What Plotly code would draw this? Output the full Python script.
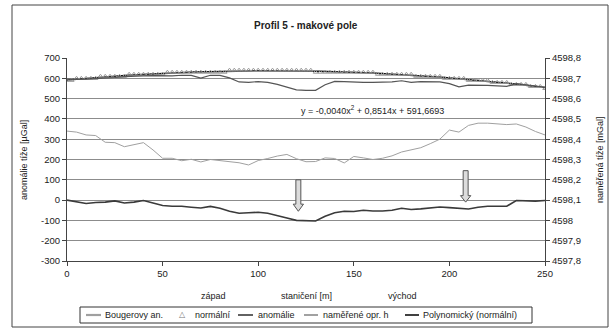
import plotly.graph_objects as go

# ---------------- data ----------------
stations = list(range(0, 255, 5))  # staničení [m]

bouguer = [340, 335, 321, 318, 285, 283, 263, 272, 283, 247, 206, 206, 194, 201, 188, 200, 194, 188,
           184, 173, 195, 205, 217, 225, 204, 189, 190, 208, 205, 183, 215, 208, 200, 206, 218, 237,
           249, 258, 278, 300, 345, 335, 368, 379, 379, 376, 372, 375, 360, 338, 321]

anomalie = [0, -8, -17, -12, -10, -4, -14, -10, -2, -14, -27, -30, -30, -35, -39, -31, -40, -55,
            -65, -62, -60, -65, -75, -88, -100, -103, -103, -80, -62, -55, -56, -50, -54, -54, -50,
            -40, -46, -43, -38, -34, -37, -42, -44, -35, -30, -30, -30, -2, -4, -5, -2]

namerene = [4598.696, 4598.694, 4598.696, 4598.698, 4598.700, 4598.704, 4598.708, 4598.711,
            4598.712, 4598.713, 4598.712, 4598.712, 4598.715, 4598.714, 4598.701, 4598.715,
            4598.714, 4598.702, 4598.682, 4598.680, 4598.684, 4598.680, 4598.670, 4598.655,
            4598.643, 4598.641, 4598.641, 4598.668, 4598.685, 4598.684, 4598.681, 4598.680,
            4598.680, 4598.680, 4598.682, 4598.688, 4598.680, 4598.684, 4598.682, 4598.682,
            4598.674, 4598.658, 4598.666, 4598.667, 4598.665, 4598.663, 4598.660, 4598.674,
            4598.667, 4598.663, 4598.656]

stations_norm = [i * 2.5 for i in range(101)]
normalni = ([4598.69] * 2 + [4598.70] * 5 + [4598.71] * 6 + [4598.72] * 8 + [4598.73] * 13 +
            [4598.74] * 18 + [4598.73] * 13 + [4598.72] * 8 + [4598.71] * 6 + [4598.70] * 5 +
            [4598.69] * 5 + [4598.68] * 4 + [4598.67] * 4 + [4598.66] * 3 + [4598.65] * 1)

# polynomial trendline coefficients (as printed in chart)
poly_coef = [-0.0040, 0.8514, 591.6693]
poly_x = list(range(0, 251, 2))
poly_y = [poly_coef[0] * x * x + poly_coef[1] * x + poly_coef[2] for x in poly_x]

left_ticks = [700, 600, 500, 400, 300, 200, 100, 0, -100, -200, -300]
left_text = ["700", "600", "500", "400", "300", "200", "100", "0", "-100", "-200", "-300"]
right_ticks = [4598.8, 4598.7, 4598.6, 4598.5, 4598.4, 4598.3, 4598.2, 4598.1, 4598.0, 4597.9, 4597.8]
right_text = ["4598,8", "4598,7", "4598,6", "4598,5", "4598,4", "4598,3", "4598,2", "4598,1", "4598",
              "4597,9", "4597,8"]

# arrows: station, top, head start, tip (left-axis units)
arrows = [(121, 100, -20, -55), (208.5, 145, 22, -10)]

series_names = ["Bougerovy an.", "normální", "anomálie", "naměřené opr. h", "Polynomický (normální)"]

FONT = "Liberation Sans"
C_BOU = "#a0a0a0"
C_NORM = "#999999"
C_ANOM = "#3a3a3a"
C_MEAS = "#555555"
C_POLY = "#111111"

fig = go.Figure()
fig.add_trace(go.Scatter(x=stations, y=bouguer, name=series_names[0], mode="lines",
                         line=dict(color=C_BOU, width=1.0)))
fig.add_trace(go.Scatter(x=stations_norm, y=normalni, name=series_names[1], mode="markers", yaxis="y2",
                         marker=dict(symbol="triangle-up-open", size=4, color=C_NORM,
                                     line=dict(width=1, color=C_NORM))))
fig.add_trace(go.Scatter(x=stations, y=anomalie, name=series_names[2], mode="lines",
                         line=dict(color=C_ANOM, width=1.6)))
fig.add_trace(go.Scatter(x=stations, y=namerene, name=series_names[3], mode="lines", yaxis="y2",
                         line=dict(color=C_MEAS, width=1.2)))
fig.add_trace(go.Scatter(x=poly_x, y=poly_y, name=series_names[4], mode="lines",
                         line=dict(color=C_POLY, width=1.5)))

shapes = []
hw_s, hw_h = 1.3, 2.7
for (sx, top, hs, tip) in arrows:
    path = (f"M {sx - hw_s} {top} L {sx + hw_s} {top} L {sx + hw_s} {hs} L {sx + hw_h} {hs} "
            f"L {sx} {tip} L {sx - hw_h} {hs} L {sx - hw_s} {hs} Z")
    shapes.append(dict(type="path", path=path, xref="x", yref="y",
                       fillcolor="#dcdcdc", line=dict(color="#555555", width=1)))

# pixel -> paper helpers (plot area 67..545 x, 58..261 y)
def px(p):
    return (p - 67) / 478.0

def py(p):
    return (261 - p) / 203.0

# outer chart border
shapes.append(dict(type="rect", xref="paper", yref="paper", x0=px(12), x1=px(608), y0=py(327), y1=py(5),
                   line=dict(color="#444444", width=1), layer="above"))

# custom legend box
shapes.append(dict(type="rect", xref="paper", yref="paper", x0=px(80), x1=px(532), y0=py(323), y1=py(307),
                   line=dict(color="#333333", width=1), layer="above"))
ly = py(315)
legend_lines = [(86, 101, C_BOU, 2.2), (238, 253, C_ANOM, 1.6), (304, 318, C_MEAS, 1.1), (405, 419, C_POLY, 1.6)]
for (a, b, c, w) in legend_lines:
    shapes.append(dict(type="line", xref="paper", yref="paper", x0=px(a), x1=px(b), y0=ly, y1=ly,
                       line=dict(color=c, width=w), layer="above"))


def ann(text, x, y, size=9, xanchor="center", angle=0, color="#222222", family=FONT):
    return dict(text=text, xref="paper", yref="paper", x=x, y=y, xanchor=xanchor, yanchor="middle",
                textangle=angle, showarrow=False, font=dict(size=size, family=family, color=color))


legend_texts = [(103, series_names[0]), (193, series_names[1]), (256, series_names[2]),
                (321, series_names[3]), (421, series_names[4])]
annotations = [
    ann("<b>Profil 5 - makové pole</b>", px(306), py(25), size=10),
    ann("y = -0,0040x<sup>2</sup> + 0,8514x + 591,6693", px(372), py(110), size=9),
    ann("anomálie tíže [µGal]", px(24), py(160), angle=-90),
    ann("naměřená tíže [mGal]", px(600), py(160), angle=-90),
    ann("západ", px(213), py(296)),
    ann("staničení [m]", px(306), py(296)),
    ann("východ", px(402), py(296)),
    ann("△", px(182), py(314), size=8, color="#777777", family="DejaVu Sans"),
]
for (a, t) in legend_texts:
    annotations.append(ann(t, px(a), ly, xanchor="left"))

fig.update_layout(
    width=611, height=329,
    margin=dict(l=67, r=66, t=58, b=68),
    paper_bgcolor="white", plot_bgcolor="white",
    font=dict(family=FONT, size=9, color="#222222"),
    showlegend=False,
    xaxis=dict(range=[0, 250], tickvals=[0, 50, 100, 150, 200, 250], showgrid=False, automargin=False,
               zeroline=False, showline=True, linecolor="#444444", ticks="outside",
               ticklen=4, tickcolor="#444444", tickfont=dict(size=9.5)),
    yaxis=dict(range=[-300, 700], tickvals=left_ticks, ticktext=left_text, showgrid=True,
               gridcolor="#8c8c8c", gridwidth=1, zeroline=False, showline=True, automargin=False,
               linecolor="#444444", ticks="outside", ticklen=4, tickcolor="#444444",
               tickfont=dict(size=9.5)),
    yaxis2=dict(range=[4597.8, 4598.8], tickvals=right_ticks, ticktext=right_text, overlaying="y",
                side="right", showgrid=False, zeroline=False, showline=True, linecolor="#444444",
                automargin=False, ticks="outside", ticklen=4, tickcolor="#444444",
                tickfont=dict(size=9.5)),
    shapes=shapes,
    annotations=annotations,
)

fig.write_html("out.html", config={"displayModeBar": False},
               post_script="document.body.style.margin='0';")
